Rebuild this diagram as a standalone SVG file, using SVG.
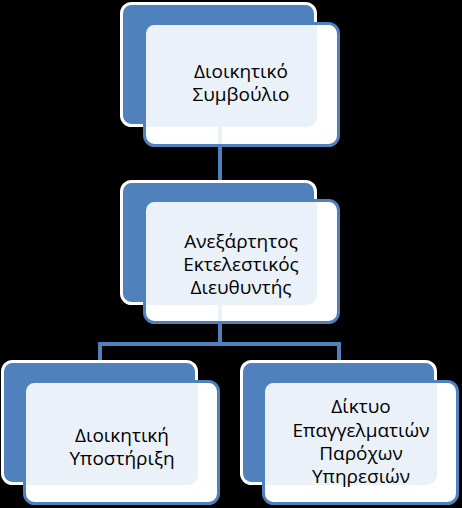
<svg xmlns="http://www.w3.org/2000/svg" width="462" height="508" viewBox="0 0 462 508">
<style>
.back{fill:#4F81BD;stroke:#FFFFFF;stroke-width:3}
.front{fill:#FFFFFF;stroke:#4F81BD;stroke-width:3}
.tint{fill:#4F81BD;stroke:none}
.conn{fill:none;stroke:#4F81BD;stroke-width:4}
.lbl{font-family:"Open Sans","Noto Sans","DejaVu Sans",sans-serif;font-size:19px;fill:#000000;text-anchor:middle}
</style>
<defs>
<clipPath id="fronts">
<rect x="146" y="25" width="191" height="119" rx="9"/>
<rect x="146" y="202" width="191" height="119" rx="9"/>
<rect x="26" y="383" width="191" height="119" rx="9"/>
<rect x="265" y="383" width="191" height="119" rx="9"/>
</clipPath>
</defs>
<rect x="0" y="0" width="462" height="508" fill="#000000"/>
<g id="connectors">
<path class="conn" d="M220,120 V185"/>
<path class="conn" d="M220,300 V344 M100,362 V344 H339 V362"/>
</g>
<g id="node-board">
<rect class="back" x="121.5" y="3.5" width="194" height="122" rx="10"/>
<rect class="front" x="144.5" y="23.5" width="194" height="122" rx="10"/>
</g>
<g id="node-ceo">
<rect class="back" x="121.5" y="181.5" width="194" height="122" rx="10"/>
<rect class="front" x="144.5" y="200.5" width="194" height="122" rx="10"/>
</g>
<g id="node-admin">
<rect class="back" x="2.5" y="361.5" width="194" height="122" rx="10"/>
<rect class="front" x="24.5" y="381.5" width="194" height="122" rx="10"/>
</g>
<g id="node-network">
<rect class="back" x="241.5" y="361.5" width="194" height="122" rx="10"/>
<rect class="front" x="263.5" y="381.5" width="194" height="122" rx="10"/>
</g>
<g id="tint" clip-path="url(#fronts)" opacity="0.11">
<path class="conn" d="M220,120 V185"/>
<path class="conn" d="M220,300 V344"/>
<rect class="tint" x="120" y="2" width="197" height="125" rx="10"/>
<rect class="tint" x="120" y="180" width="197" height="125" rx="10"/>
<rect class="tint" x="1" y="360" width="197" height="125" rx="10"/>
<rect class="tint" x="240" y="360" width="197" height="125" rx="10"/>
</g>
<g id="labels">
<text class="lbl" x="241" y="78">Διοικητικό</text>
<text class="lbl" x="241" y="101">Συμβούλιο</text>
<text class="lbl" x="241" y="248">Ανεξάρτητος</text>
<text class="lbl" x="241" y="271">Εκτελεστικός</text>
<text class="lbl" x="241" y="294">Διευθυντής</text>
<text class="lbl" x="122" y="442">Διοικητική</text>
<text class="lbl" x="122" y="465">Υποστήριξη</text>
<text class="lbl" x="361" y="413">Δίκτυο</text>
<text class="lbl" x="361" y="437">Επαγγελματιών</text>
<text class="lbl" x="361" y="460">Παρόχων</text>
<text class="lbl" x="361" y="483">Υπηρεσιών</text>
</g>
</svg>
